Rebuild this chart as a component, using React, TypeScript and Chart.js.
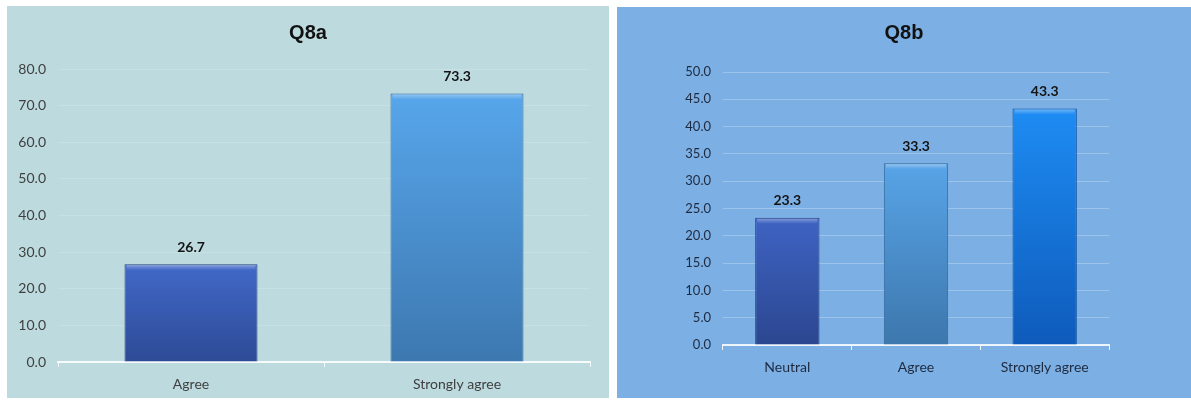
import React, { useEffect, useRef } from "react";
import { Chart, registerables } from "chart.js";

Chart.register(...registerables);

// ---- Data ----
const q8aTitle = "Q8a";
const q8aCategories = ["Agree", "Strongly agree"];
const q8aValues = [26.7, 73.3];
const q8aMax = 80;
const q8aStep = 10;

const q8bTitle = "Q8b";
const q8bCategories = ["Neutral", "Agree", "Strongly agree"];
const q8bValues = [23.3, 33.3, 43.3];
const q8bMax = 50;
const q8bStep = 5;

// ---- Styles ----
const q8aTop = ["#4169c8", "#57a6eb"];
const q8aBottom = ["#2d4a96", "#3d78b0"];
const q8aBorder = ["#25407f", "#336a9c"];
const q8bTop = ["#3e63c3", "#58a4e7", "#1e8cf3"];
const q8bBottom = ["#2c4790", "#3d77ad", "#0e5bbb"];
const q8bBorder = ["#243e7c", "#336a9a", "#0b4f9f"];

type PanelSpec = {
  title: string;
  categories: string[];
  values: number[];
  max: number;
  step: number;
  tops: string[];
  bottoms: string[];
  borders: string[];
  width: number;
  height: number;
  yWidth: number;
  rightSpace: number;
  xHeight: number;
  pad: { left: number; right: number; top: number; bottom: number };
  titlePad: { top: number; bottom: number };
  tickFont: number;
  xFont: number;
  tickColor: string;
  gridColor: string;
  axisColor: string;
};

const valueLabels = {
  id: "valueLabels",
  afterDatasetsDraw(chart: any) {
    const ctx = chart.ctx;
    const meta = chart.getDatasetMeta(0);
    const ds = chart.data.datasets[0];
    ctx.save();
    meta.data.forEach((el: any, i: number) => {
      const w = el.width;
      // top highlight (bevel)
      const g = ctx.createLinearGradient(0, el.y, 0, el.y + 6);
      g.addColorStop(0, "rgba(255,255,255,0.4)");
      g.addColorStop(1, "rgba(255,255,255,0)");
      ctx.fillStyle = g;
      ctx.fillRect(el.x - w / 2 + 2, el.y + 1, w - 4, 6);
      ctx.fillStyle = "#141414";
      ctx.font = "bold 14px Lato, 'Noto Sans', sans-serif";
      ctx.textAlign = "center";
      ctx.textBaseline = "middle";
      ctx.fillText(Number(ds.data[i]).toFixed(1), el.x, el.y - 17);
    });
    ctx.restore();
  },
};

function BarPanel({ spec }: { spec: PanelSpec }) {
  const ref = useRef<HTMLCanvasElement | null>(null);
  useEffect(() => {
    if (!ref.current) return;
    const s = spec;
    const chart = new Chart(ref.current, {
      type: "bar",
      data: {
        labels: s.categories,
        datasets: [
          {
            data: s.values,
            backgroundColor: (c: any) => {
              const ch = c.chart;
              const area = ch.chartArea;
              const i = c.dataIndex;
              if (!area || i === undefined) return s.tops[0];
              const yTop = ch.scales.y.getPixelForValue(s.values[i]);
              const g = ch.ctx.createLinearGradient(0, yTop, 0, area.bottom);
              g.addColorStop(0, s.tops[i]);
              g.addColorStop(1, s.bottoms[i]);
              return g;
            },
            borderColor: s.borders,
            borderWidth: 1,
            categoryPercentage: 1,
            barPercentage: 0.5,
          },
        ],
      },
      options: {
        responsive: false,
        animation: false,
        devicePixelRatio: 1,
        layout: { padding: s.pad },
        plugins: {
          legend: { display: false },
          tooltip: { enabled: false },
          title: {
            display: true,
            text: s.title,
            color: "#111111",
            font: { family: "'Liberation Sans', Arial, sans-serif", size: 20, weight: "bold", lineHeight: 1.2 },
            padding: s.titlePad,
          },
        },
        scales: {
          x: {
            afterFit: (sc: any) => {
              sc.height = s.xHeight;
            },
            grid: {
              display: true,
              drawOnChartArea: false,
              drawTicks: true,
              tickLength: 5,
              color: s.axisColor,
              lineWidth: 1,
            },
            border: { display: true, color: s.axisColor, width: 2 },
            ticks: {
              color: s.tickColor,
              padding: 9,
              font: { family: "Lato, 'Noto Sans', sans-serif", size: s.xFont },
            },
          },
          y: {
            min: 0,
            max: s.max,
            afterFit: (sc: any) => {
              sc.width = s.yWidth;
            },
            grid: { color: s.gridColor, drawTicks: false, lineWidth: 1 },
            border: { display: false },
            ticks: {
              stepSize: s.step,
              padding: 12,
              color: s.tickColor,
              font: { family: "Lato, 'Noto Sans', sans-serif", size: s.tickFont },
              callback: (v: any) => Number(v).toFixed(1),
            },
          },
          spacer: {
            type: "linear",
            position: "right",
            display: true,
            afterFit: (sc: any) => {
              sc.width = s.rightSpace;
            },
            grid: { display: false, drawTicks: false },
            border: { display: false },
            ticks: { display: false },
          },
        },
      },
      plugins: [valueLabels],
    });
    return () => chart.destroy();
  }, [spec]);
  return <canvas ref={ref} width={spec.width} height={spec.height} style={{ display: "block" }} />;
}

const leftSpec: PanelSpec = {
  title: q8aTitle,
  categories: q8aCategories,
  values: q8aValues,
  max: q8aMax,
  step: q8aStep,
  tops: q8aTop,
  bottoms: q8aBottom,
  borders: q8aBorder,
  width: 602,
  height: 392,
  yWidth: 51,
  rightSpace: 19,
  xHeight: 30,
  pad: { left: 0, right: 0, top: 0, bottom: 6 },
  titlePad: { top: 15.5, bottom: 23.5 },
  tickFont: 14,
  xFont: 14,
  tickColor: "#404040",
  gridColor: "rgba(255,255,255,0.16)",
  axisColor: "rgba(255,255,255,0.85)",
};

const rightSpec: PanelSpec = {
  title: q8bTitle,
  categories: q8bCategories,
  values: q8bValues,
  max: q8bMax,
  step: q8bStep,
  tops: q8bTop,
  bottoms: q8bBottom,
  borders: q8bBorder,
  width: 574,
  height: 391,
  yWidth: 106,
  rightSpace: 82,
  xHeight: 30,
  pad: { left: 0, right: 0, top: 0, bottom: 23 },
  titlePad: { top: 14.5, bottom: 26.5 },
  tickFont: 13,
  xFont: 14,
  tickColor: "#1e2a40",
  gridColor: "rgba(255,255,255,0.26)",
  axisColor: "rgba(255,255,255,0.85)",
};

export default function App() {
  return (
    <div>
      <div style={{ position: "absolute", left: 7, top: 6, width: 602, height: 392, background: "#bddadf" }}>
        <BarPanel spec={leftSpec} />
      </div>
      <div style={{ position: "absolute", left: 617, top: 7, width: 574, height: 391, background: "#7cafe3" }}>
        <BarPanel spec={rightSpec} />
      </div>
    </div>
  );
}
